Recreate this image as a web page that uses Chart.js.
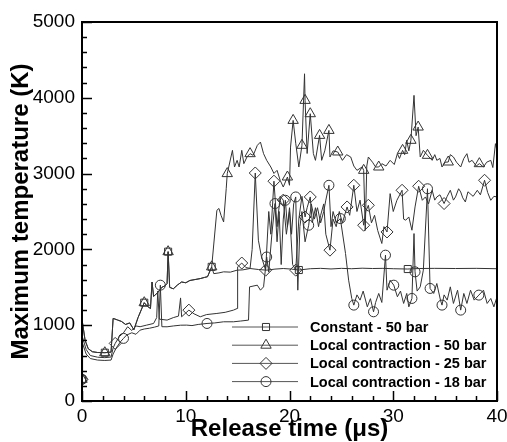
<!DOCTYPE html>
<html lang="en">
<head>
  <title>Maximum temperature</title>
  <meta charset="utf-8">
  <script src="https://cdn.jsdelivr.net/npm/chart.js"></script>
  <style>
    /* fixed size canvas, no margins */
    body { margin: 0; background: #fff; }
    canvas { display: block; }
  </style>
</head>
<body>

<canvas id="tempChart" width="507" height="442"></canvas>

<script>
  // [time (us), max temperature (K)]
  const constant50 = [
    [0,286],[0.05,1030],[0.3,800],[0.6,690],[1.0,650],[1.5,640],[2.2,637],[2.8,645],
    [3.0,1090],[3.4,1070],[3.8,1050],[4.2,1010],[4.6,1030],[5.0,940],[5.4,1100],[6.0,1297],
    [6.3,1250],[6.6,1220],[6.75,1570],[6.9,1380],[7.3,1430],[7.7,1500],[8.0,1520],[8.2,1550],
    [8.3,1970],[8.45,1500],[8.8,1480],[9.2,1530],[9.6,1570],[10.0,1560],[10.4,1590],[10.8,1600],
    [11.4,1615],[11.8,1630],[12.1,1640],[12.5,1770],[12.7,1680],[13.2,1690],[13.65,1704],[14.3,1700],
    [14.95,1726],[15.5,1730],[16.2,1748],[17.0,1735],[17.8,1726],[18.6,1740],[19.4,1748],[20.2,1740],
    [20.9,1728],[22,1745],[23,1750],[24,1742],[25,1750],[26,1745],[27,1752],[28,1748],[29,1750],
    [30,1745],[31.4,1741],[32.5,1748],[34,1750],[36,1748],[38,1750],[40,1745]
  ];
  const local50 = [
    [0,286],[0.05,1030],[0.3,800],[0.6,690],[1.0,650],[1.5,640],[2.2,637],[2.8,645],
    [3.0,1090],[3.4,1070],[3.8,1050],[4.2,1010],[4.6,1030],[5.0,940],[5.4,1100],[6.0,1297],
    [6.3,1250],[6.6,1220],[6.75,1570],[6.9,1380],[7.3,1430],[7.7,1500],[8.0,1520],[8.2,1550],
    [8.3,1970],[8.45,1500],[8.8,1480],[9.2,1530],[9.6,1570],[10.0,1560],[10.4,1590],[10.8,1600],
    [11.4,1615],[11.8,1630],[12.1,1640],[12.5,1770],[13.0,2516],[13.2,2540],[13.4,2450],[13.65,2362],
    [13.9,2800],[14.0,3000],[14.5,3307],[14.7,3087],[14.95,3175],[15.15,3087],[15.4,3307],[15.6,3131],
    [15.9,3219],[16.2,3263],[16.5,3241],[16.9,3373],[17.2,3416],[17.5,3263],[17.8,3175],[18.2,3087],
    [18.5,3002],[18.8,3043],[19.1,2912],[19.4,2823],[19.8,2955],[20.0,2846],[20.1,3350],[20.35,3702],
    [20.6,3400],[20.9,3087],[21.2,3373],[21.45,4317],[21.5,3966],[21.7,3265],[22.0,3790],[22.3,3265],
    [22.5,3175],[22.9,3504],[23.1,3175],[23.4,3300],[23.8,3570],[23.9,3219],[24.2,3300],[24.65,3285],
    [25.1,3175],[25.5,3250],[25.9,3219],[26.2,3100],[26.5,3043],[27.0,3087],[27.15,3043],[27.3,2250],
    [27.45,3100],[27.6,3219],[28.0,3150],[28.3,3087],[28.6,3087],[28.9,3131],[29.3,3100],[29.7,3175],
    [30.1,3120],[30.4,3263],[30.6,3200],[30.9,3307],[31.1,3250],[31.3,3439],[31.5,3300],[31.7,3439],
    [32.0,4032],[32.2,3500],[32.4,3614],[32.6,3219],[32.9,3307],[33.3,3241],[33.75,3175],[34.0,3250],
    [34.2,3175],[34.5,3200],[34.7,3087],[35.0,3150],[35.3,3153],[35.5,3250],[35.8,3219],[36.1,3150],
    [36.5,3087],[36.8,3200],[37.1,3263],[37.3,3150],[37.6,3175],[38.0,3100],[38.3,3131],[38.7,3087],
    [39.0,3150],[39.4,3175],[39.6,3080],[39.85,3395],[40,3300]
  ];
  const local25 = [
    [0,286],[0.05,840],[0.4,680],[0.8,600],[1.5,578],[2.2,572],[2.8,580],[3.0,700],[3.2,760],
    [3.6,850],[4.0,900],[4.4,980],[4.8,930],[5.2,990],[5.6,980],[6.2,1000],[6.9,1023],[7.2,1100],
    [7.3,1450],[7.45,1080],[8.2,1067],[8.8,1100],[9.3,1120],[9.5,1360],[9.6,1111],[10.3,1199],
    [10.8,1150],[11.4,1111],[12.0,1140],[13.0,1155],[13.8,1170],[14.6,1199],[14.95,1220],[15.0,1770],
    [15.4,1820],[15.8,1760],[16.2,1750],[16.4,2000],[16.7,3008],[17.0,2121],[17.3,1900],[17.7,1726],
    [18.0,2500],[18.2,2200],[18.5,2900],[18.8,2300],[19.1,2700],[19.4,2650],[19.7,2200],[20.0,2500],
    [20.3,1800],[20.6,1726],[20.9,2400],[21.2,2700],[21.5,2428],[21.7,2550],[22.0,2692],[22.2,2350],
    [22.5,2550],[22.8,2300],[23.0,2450],[23.3,2600],[23.5,2200],[23.9,1990],[24.2,2400],[24.5,2300],
    [24.8,2500],[25.1,2350],[25.55,2560],[25.8,2450],[26.2,2846],[26.5,2500],[26.8,2650],[27.15,2319],
    [27.35,2500],[27.6,2582],[27.9,2350],[28.2,2450],[28.5,2250],[28.9,2078],[29.1,2300],[29.4,2230],
    [29.7,2736],[30.0,2500],[30.35,2648],[30.85,2780],[31.0,2400],[31.2,2385],[31.5,2428],[31.8,2253],
    [32.1,2560],[32.45,2833],[32.8,2648],[33.1,2692],[33.4,2600],[33.75,2780],[34.0,2650],[34.2,2692],
    [34.5,2720],[34.9,2605],[35.2,2700],[35.5,2780],[35.8,2650],[36.0,2692],[36.3,2800],[36.5,2758],
    [36.7,2680],[36.95,2626],[37.2,2760],[37.4,2736],[37.7,2700],[38.1,2780],[38.4,2720],[38.8,2912],
    [39.1,2750],[39.4,2648],[39.7,2700],[40,2692]
  ];
  const local18 = [
    [0,286],[0.05,760],[0.4,620],[0.8,560],[1.5,540],[2.2,535],[2.8,540],[3.0,620],[3.3,700],
    [3.7,780],[4.0,826],[4.3,870],[4.8,900],[5.2,880],[5.6,935],[6.0,950],[6.5,960],[7.0,975],
    [7.4,990],[7.55,1528],[7.7,980],[8.2,979],[8.8,990],[9.5,1000],[10.1,1001],[10.6,995],[11.2,1010],
    [12.05,1023],[12.8,1030],[13.65,1045],[14.6,1045],[15.3,1055],[16.05,1067],[16.15,1506],[16.9,1528],
    [17.2,1462],[17.5,1506],[17.8,1900],[18.0,1700],[18.3,2200],[18.6,2605],[18.8,2100],[19.0,2500],
    [19.2,1800],[19.4,2400],[19.6,2648],[19.8,2300],[20.0,2550],[20.2,2200],[20.4,2600],[20.6,2692],
    [20.8,1462],[21.0,2300],[21.2,2500],[21.5,2100],[21.85,2319],[22.1,2600],[22.4,2400],[22.7,2550],
    [23.0,2350],[23.3,2500],[23.5,2650],[23.8,2846],[24.0,2300],[24.2,2500],[24.5,2350],[24.9,2407],
    [25.4,1946],[25.7,1594],[26.0,1353],[26.2,1265],[26.5,1400],[26.8,1331],[27.1,1450],[27.5,1242],
    [27.8,1350],[28.1,1177],[28.3,1300],[28.6,1419],[28.9,1300],[29.25,1924],[29.4,1462],[29.7,1594],
    [30.05,1528],[30.4,1375],[30.7,1450],[31.0,1287],[31.3,1419],[31.5,1242],[31.8,1353],[32.0,2209],
    [32.1,1704],[32.3,1450],[32.6,1506],[32.9,1726],[33.3,2800],[33.55,1485],[33.9,1419],[34.2,1550],
    [34.55,1331],[34.7,1265],[34.9,1400],[35.2,1331],[35.5,1506],[35.8,1287],[36.2,1462],[36.5,1199],
    [36.8,1419],[37.1,1287],[37.45,1462],[37.8,1331],[38.25,1397],[38.7,1462],[39.05,1287],[39.4,1353],
    [39.7,1242],[40,1375]
  ];

  // times where a symbol is shown on each curve
  const marks50c = [0, 2.2, 6.0, 8.3, 12.5, 20.9, 31.4];
  const marks50 = [0, 2.2, 6.0, 8.3, 12.5, 14.0, 16.2, 19.8, 20.35, 21.2, 21.5, 22.0, 22.9, 23.8,
                   24.65, 27.15, 28.6, 30.9, 31.7, 32.4, 33.3, 35.3, 38.3];
  const marks25 = [0, 3.2, 10.3, 15.4, 16.7, 17.7, 18.5, 19.4, 20.6, 21.5, 22.0, 23.9, 25.55, 26.2,
                   27.15, 27.6, 29.4, 30.85, 32.45, 34.9, 38.8];
  const marks18 = [0, 4.0, 7.55, 12.05, 17.8, 18.6, 19.6, 20.6, 21.85, 23.8, 24.9, 26.2, 28.1, 29.25,
                   30.05, 31.8, 32.1, 33.3, 33.55, 34.7, 36.5, 38.25];

  const seriesNames = ["Constant - 50 bar", "Local contraction - 50 bar",
                       "Local contraction - 25 bar", "Local contraction - 18 bar"];

  Chart.defaults.font.family = "'Liberation Sans', Arial, sans-serif";
  Chart.defaults.color = "#000";

  function makeSet(label, data, marks, style, r) {
    return {
      label: label,
      data: data,
      borderColor: "#333",
      borderWidth: 1,
      backgroundColor: "rgba(0,0,0,0)",
      pointStyle: style,
      pointBorderColor: "#333",
      pointBorderWidth: 1,
      pointBackgroundColor: "rgba(0,0,0,0)",
      pointRadius: function(c) { return marks.includes(c.raw[0]) ? r : 0 },
      pointHoverRadius: 0,
      tension: 0
    }
  }

  // inward major / minor ticks plus the box
  const frameTicks = {
    id: "frameTicks",
    afterDraw(chart) {
      const ctx = chart.ctx
      const a = chart.chartArea
      const xs = chart.scales.x, ys = chart.scales.y
      ctx.save()
      ctx.strokeStyle = "#000"
      ctx.lineWidth = 1.5
      for (let v = 0; v <= 5000; v += 200) {
        const y = Math.round(ys.getPixelForValue(v)) + 0.5
        const len = v % 1000 === 0 ? 10 : 5
        ctx.beginPath(); ctx.moveTo(a.left, y); ctx.lineTo(a.left + len, y); ctx.stroke()
      }
      for (let v = 0; v <= 40; v += 2) {
        const x = Math.round(xs.getPixelForValue(v)) + 0.5
        const len = v % 10 === 0 ? 10 : 5
        ctx.beginPath(); ctx.moveTo(x, a.bottom); ctx.lineTo(x, a.bottom - len); ctx.stroke()
      }
      ctx.lineWidth = 2
      ctx.strokeRect(a.left, a.top, a.right - a.left, a.bottom - a.top)
      ctx.restore()
    }
  }

  // legend in the lower right of the plot
  const legendR = [5, 6, 6, 5]
  const boxLegend = {
    id: "boxLegend",
    afterDraw(chart) {
      const ctx = chart.ctx
      const a = chart.chartArea
      const x0 = a.left + 150, x1 = a.left + 216, xm = a.left + 184, xt = a.left + 228
      ctx.save()
      chart.data.datasets.forEach(function(ds, i) {
        const y = a.bottom - 74 + i * 18.2
        ctx.strokeStyle = "#555"
        ctx.lineWidth = 1
        ctx.beginPath(); ctx.moveTo(x0, y); ctx.lineTo(x1, y); ctx.stroke()
        ctx.strokeStyle = "#333"
        ctx.fillStyle = "rgba(0,0,0,0)"
        Chart.helpers.drawPoint(ctx, {pointStyle: ds.pointStyle, radius: legendR[i], borderWidth: 1}, xm, y)
        ctx.fillStyle = "#000"
        ctx.font = "bold 14.5px 'Liberation Sans', Arial, sans-serif"
        ctx.textBaseline = "middle"
        ctx.textAlign = "left"
        ctx.fillText(ds.label, xt, y + 1)
      })
      ctx.restore()
    }
  }

  new Chart("tempChart", {
    type: "line",
    data: {
      datasets: [
        makeSet(seriesNames[0], constant50, marks50c, "rect", 5),
        makeSet(seriesNames[1], local50, marks50, "triangle", 6),
        makeSet(seriesNames[2], local25, marks25, "rectRot", 6),
        makeSet(seriesNames[3], local18, marks18, "circle", 5)
      ]
    },
    options: {
      responsive: false,
      animation: false,
      layout: { padding: { top: 22, right: 10, left: 0, bottom: 0 } },
      plugins: { legend: { display: false }, tooltip: { enabled: false } },
      scales: {
        x: {
          type: "linear", min: 0, max: 40,
          grid: { display: false, drawTicks: false },
          border: { display: false },
          ticks: { stepSize: 10, padding: 4, maxRotation: 0, font: { size: 19 }, callback: v => String(v) },
          title: { display: true, text: "Release time (\u03bcs)", font: { size: 24, weight: "bold", lineHeight: 1 }, padding: { top: 0, bottom: 1 } },
          afterFit(s) { s.height = 41; s.paddingLeft = 0; s.paddingRight = 0 }
        },
        y: {
          type: "linear", min: 0, max: 5000,
          grid: { display: false, drawTicks: false },
          border: { display: false },
          ticks: { stepSize: 1000, padding: 7, font: { size: 19 }, callback: v => String(v) },
          title: { display: true, text: "Maximum temperature (K)", font: { size: 24, weight: "bold", lineHeight: 1 }, padding: { top: 9, bottom: 0 } },
          afterFit(s) { s.width = 82; s.paddingTop = 0; s.paddingBottom = 0 }
        }
      }
    },
    plugins: [frameTicks, boxLegend]
  });
</script>
</body>
</html>
